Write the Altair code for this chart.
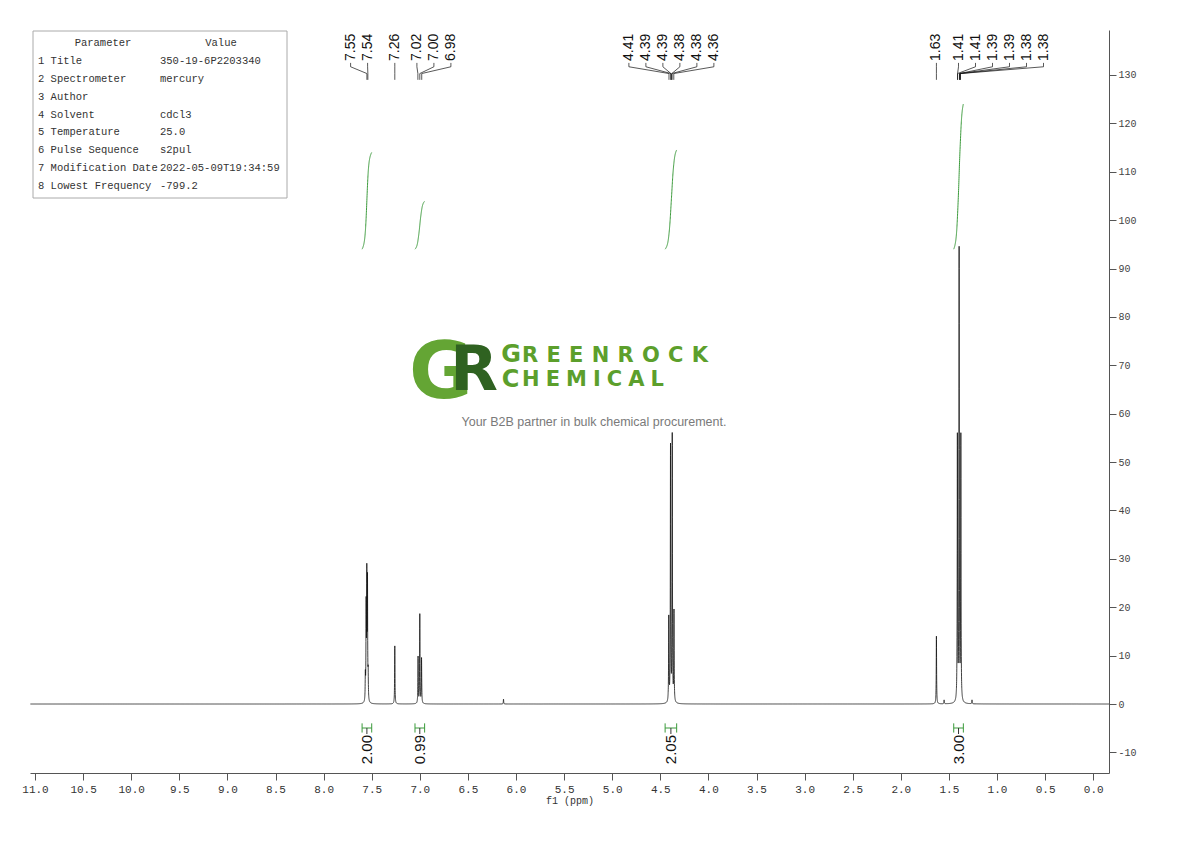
import numpy as np
import pandas as pd
import altair as alt

# ---------------- data ----------------
peak_ppm = [7.566, 7.558, 7.551, 7.544, 7.537, 7.26, 7.018, 7.000, 6.982, 6.13,
            4.412, 4.394, 4.376, 4.358, 1.63, 1.55, 1.412, 1.394, 1.376, 1.26]
peak_height = [5.0, 19.0, 25.0, 24.0, 5.0, 12.0, 9.6, 18.4, 9.3, 1.0,
               17.4, 52.8, 55.0, 18.6, 14.0, 0.8, 54.5, 93.0, 54.5, 0.8]

label_text = [["7.55", "7.54"], ["7.26"], ["7.02", "7.00", "6.98"],
              ["4.41", "4.39", "4.39", "4.38", "4.38", "4.36"], ["1.63"],
              ["1.41", "1.41", "1.39", "1.39", "1.38", "1.38"]]

int_from = [7.60, 7.05, 4.45, 1.45]
int_to = [7.50, 6.95, 4.33, 1.35]
int_value = [2.00, 0.99, 2.05, 3.00]

param_names = ["Title", "Spectrometer", "Author", "Solvent", "Temperature",
               "Pulse Sequence", "Modification Date", "Lowest Frequency"]
param_values = ["350-19-6P2203340", "mercury", "", "cdcl3", "25.0",
                "s2pul", "2022-05-09T19:34:59", "-799.2"]

# ---------------- layout constants ----------------
W, H = 1079, 743
XDOM = [11.052, -0.164]
YDOM = [-14.26, 139.3]
PX_PER_PPM = W / (XDOM[0] - XDOM[1])
BLACK = "#111111"
GREEN = "#3a9a3a"

# ---------------- spectrum line ----------------
grid = [np.arange(XDOM[1], XDOM[0], 0.004)]
for p in peak_ppm:
    grid.append(np.arange(p - 0.04, p + 0.04, 0.0005))
    grid.append(np.array([p]))
xs = np.unique(np.round(np.concatenate(grid), 5))
LW = 0.0022
ys = np.zeros_like(xs)
for p, h in zip(peak_ppm, peak_height):
    ys += h * LW ** 2 / ((xs - p) ** 2 + LW ** 2)
spec = pd.DataFrame({"ppm": xs, "val": ys})

# ---------------- integral curves ----------------
INT_BASE = 94.0
rows = []
for i, (a, b, v) in enumerate(zip(int_from, int_to, int_value)):
    g = np.linspace(a, b, 140)
    s = np.zeros_like(g)
    for p, h in zip(peak_ppm, peak_height):
        if b <= p <= a:
            s += h * 0.012 ** 2 / ((g - p) ** 2 + 0.012 ** 2)
    c = np.concatenate([[0], np.cumsum((s[1:] + s[:-1]) / 2)])
    c = c / c[-1]
    for gg, cc in zip(g, c):
        rows.append({"ppm": gg, "val": INT_BASE + 10 * v * cc, "r": i})
integ = pd.DataFrame(rows)

# ---------------- peak label layout ----------------
SP = 17 / PX_PER_PPM
u_groups = []
for grp in label_text:
    pk = [float(t) for t in grp]
    if len(pk) == 1:
        u_groups.append([-pk[0]])
    else:
        c = -np.mean(pk)
        u_groups.append([c + (k - (len(pk) - 1) / 2) * SP for k in range(len(pk))])
for gi, grp in enumerate(label_text):
    if len(grp) == 1:
        continue
    u = u_groups[gi]
    if gi > 0 and len(label_text[gi - 1]) == 1 and u[0] - u_groups[gi - 1][-1] < SP * 1.3:
        d = u_groups[gi - 1][-1] + SP * 1.3 - u[0]
        u = [q + d for q in u]
    if gi + 1 < len(label_text) and len(label_text[gi + 1]) == 1 and u_groups[gi + 1][0] - u[-1] < SP * 1.6:
        d = u[-1] - (u_groups[gi + 1][0] - SP * 1.6)
        u = [q - d for q in u]
    u_groups[gi] = u

lab_rows, lead_rows = [], []
lid = 0
Y_TXT, Y1, Y2, Y3, Y4 = 132.9, 132.5, 131.7, 130.3, 129.0
for gi, grp in enumerate(label_text):
    for k, t in enumerate(grp):
        lx = -u_groups[gi][k]
        pk = float(t)
        lab_rows.append({"ppm": lx, "val": Y_TXT, "txt": t})
        for o, (xx, yy) in enumerate([(lx, Y1), (lx, Y2), (pk, Y3), (pk, Y4)]):
            lead_rows.append({"ppm": xx, "val": yy, "lid": lid, "o": o})
        lid += 1
labs = pd.DataFrame(lab_rows)
leads = pd.DataFrame(lead_rows)

# ---------------- integral brackets ----------------
br = pd.DataFrame({"ppm": int_from, "ppm2": int_to,
                   "mid": [(a + b) / 2 for a, b in zip(int_from, int_to)],
                   "txt": [f"{v:.2f}" for v in int_value]})
caps = pd.DataFrame({"ppm": int_from + int_to})

# ---------------- scales / axes ----------------
xscale = alt.Scale(domain=XDOM, nice=False, zero=False)
yscale = alt.Scale(domain=YDOM, nice=False, zero=False)
xvals = [round(v, 2) for v in np.arange(0, 11.001, 0.25)]
yvals = [int(v) for v in np.arange(-10, 136, 5)]

xaxis = alt.Axis(title="f1 (ppm)", values=xvals, grid=False,
                 labelExpr="datum.value % 0.5 === 0 ? format(datum.value, '.1f') : ''",
                 tickSize={"condition": {"test": "datum.value % 0.5 === 0", "value": 7}, "value": 4},
                 labelOverlap=False, labelFont="Liberation Mono", labelFontSize=11,
                 labelColor="#333333", titleFont="Liberation Mono", titleFontSize=10,
                 titleFontWeight="normal", titleColor="#333333", titlePadding=1,
                 domainColor="#555555", tickColor="#555555", labelPadding=3)
yaxis = alt.Axis(title=None, orient="right", values=yvals, grid=False,
                 labelExpr="datum.value % 10 === 0 ? '' + datum.value : ''",
                 tickSize={"condition": {"test": "datum.value % 10 === 0", "value": 7}, "value": 4},
                 labelOverlap=False, labelFont="Liberation Mono", labelFontSize=10,
                 labelColor="#444444", domainColor="#555555", tickColor="#555555",
                 labelPadding=2)

base_x = alt.X("ppm:Q", scale=xscale, axis=xaxis)
base_y = alt.Y("val:Q", scale=yscale, axis=yaxis)

spectrum = alt.Chart(spec).mark_line(color=BLACK, strokeWidth=0.8).encode(x=base_x, y=base_y)

integral = alt.Chart(integ).mark_line(color=GREEN, strokeWidth=1).encode(
    x="ppm:Q", y="val:Q", detail="r:N")

leaders = alt.Chart(leads).mark_line(color=BLACK, strokeWidth=0.7).encode(
    x="ppm:Q", y="val:Q", detail="lid:N", order="o:Q")

peak_labels = alt.Chart(labs).mark_text(
    angle=270, align="left", baseline="middle", font="Liberation Sans",
    fontSize=14, color=BLACK).encode(x="ppm:Q", y="val:Q", text="txt:N")

bracket = alt.Chart(br).mark_rule(color=GREEN, strokeWidth=1).encode(
    x="ppm:Q", x2="ppm2:Q", y=alt.datum(-4.96))
bracket_caps = alt.Chart(caps).mark_rule(color=GREEN, strokeWidth=1).encode(
    x="ppm:Q", y=alt.datum(-4.0), y2=alt.datum(-5.9))
bracket_stub = alt.Chart(br).mark_rule(color="#333333", strokeWidth=1).encode(
    x="mid:Q", y=alt.datum(-4.96), y2=alt.datum(-6.2))
int_labels = alt.Chart(br).mark_text(
    angle=270, align="right", baseline="middle", font="Liberation Sans",
    fontSize=15, color=BLACK).encode(x="mid:Q", y=alt.datum(-6.4), text="txt:N")

# ---------------- parameter table (pixel positioned) ----------------
trows = [{"px": 73, "py": 13, "txt": "Parameter", "al": "center"},
         {"px": 191, "py": 13, "txt": "Value", "al": "center"}]
for i, (n, v) in enumerate(zip(param_names, param_values)):
    py = 31 + i * 17.85
    trows.append({"px": 8, "py": py, "txt": f"{i + 1} {n}", "al": "left"})
    trows.append({"px": 130, "py": py, "txt": v, "al": "left"})
tdf = pd.DataFrame(trows)

table_box = alt.Chart(pd.DataFrame({"a": [0]})).mark_rect(
    fill="white", stroke="#aaaaaa", strokeWidth=1).encode(
    x=alt.value(3), x2=alt.value(257), y=alt.value(1), y2=alt.value(168))
table_left = alt.Chart(tdf[tdf.al == "left"]).mark_text(
    align="left", baseline="middle", font="Liberation Mono", fontSize=10.5,
    color="#333333").encode(x=alt.X("px:Q", scale=None), y=alt.Y("py:Q", scale=None), text="txt:N")
table_center = alt.Chart(tdf[tdf.al == "center"]).mark_text(
    align="center", baseline="middle", font="Liberation Mono", fontSize=10.5,
    color="#333333").encode(x=alt.X("px:Q", scale=None), y=alt.Y("py:Q", scale=None), text="txt:N")

# ---------------- watermark logo ----------------
ADV = {"C": 0.733, "E": 0.683, "G": 0.818, "H": 0.837, "I": 0.372, "K": 0.779,
       "L": 0.638, "M": 0.996, "N": 0.837, "O": 0.850, "R": 0.770, "A": 0.774}


def spaced(word, x0, x1, y, fs):
    adv = [ADV[c] * fs for c in word]
    ls = (x1 - x0 - sum(adv)) / (len(word) - 1)
    out, cur = [], x0
    for c, a in zip(word, adv):
        out.append({"px": cur + a / 2, "py": y, "txt": c, "fs": fs})
        cur += a + ls
    return out


small = spaced("REENROCK", 492, 678, 332, 21) + spaced("HEMICAL", 492, 634, 356, 21)
small += [{"px": 481, "py": 332, "txt": "G", "fs": 24}, {"px": 480.5, "py": 357, "txt": "C", "fs": 24}]
logo_small = alt.Chart(pd.DataFrame(small)).mark_text(
    align="center", baseline="alphabetic", font="DejaVu Sans", fontWeight="bold",
    color="#5c9f2c").encode(x=alt.X("px:Q", scale=None), y=alt.Y("py:Q", scale=None),
                            text="txt:N", size=alt.Size("fs:Q", scale=None, legend=None))
logo_g = alt.Chart(pd.DataFrame({"t": ["G"]})).mark_text(
    align="center", baseline="alphabetic", font="DejaVu Sans", fontWeight="bold",
    fontSize=78, color="#64a534").encode(x=alt.value(411), y=alt.value(368), text="t:N")
logo_r = alt.Chart(pd.DataFrame({"t": ["R"]})).mark_text(
    align="center", baseline="alphabetic", font="DejaVu Sans", fontWeight="bold",
    fontSize=62, color="#2f6221").encode(x=alt.value(444), y=alt.value(360), text="t:N")
tagline = alt.Chart(pd.DataFrame({"t": ["Your B2B partner in bulk chemical procurement."]})).mark_text(
    align="center", baseline="alphabetic", font="Liberation Sans", fontSize=12.5,
    color="#7a7a7a").encode(x=alt.value(564), y=alt.value(396), text="t:N")

chart = alt.layer(
    spectrum, integral, leaders, peak_labels, bracket, bracket_caps, bracket_stub,
    int_labels, table_box, table_left, table_center, logo_g, logo_r, logo_small, tagline
).properties(
    width=W, height=H,
    autosize=alt.AutoSizeParams(type="none"),
    padding={"left": 22, "top": 22, "right": 60, "bottom": 45},
).configure(background="white").configure_view(stroke=None, strokeWidth=0)

chart.save("out.html", embed_options={"renderer": "svg", "actions": False})
